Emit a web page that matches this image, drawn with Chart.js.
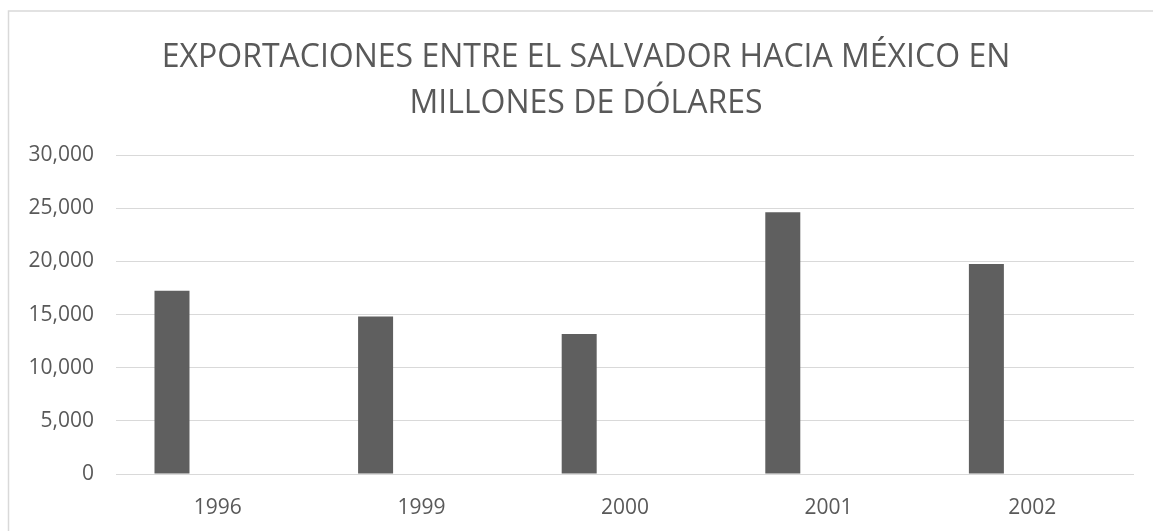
<!DOCTYPE html>
<html>
<head>
<meta charset="utf-8">
<script src="https://cdn.jsdelivr.net/npm/chart.js@4"></script>
<style>
  html, body { margin: 0; padding: 0; background: #ffffff; }
  #wrap { width: 1153px; height: 531px; position: relative; }
</style>
</head>
<body>
<div id="wrap"><canvas id="c" width="1153" height="531"></canvas></div>
<script>
const categories = ['1996', '1999', '2000', '2001', '2002'];
const exportaciones = [17250, 14810, 13180, 24620, 19760];
const serieVacia = [null, null, null, null, null];
const titleLines = ['EXPORTACIONES ENTRE EL SALVADOR HACIA MÉXICO EN', 'MILLONES DE DÓLARES'];

const textColor = '#595959';
const gridColor = '#d9d9d9';
const fontFamily = "'Open Sans', 'Noto Sans', sans-serif";

const framePlugin = {
  id: 'frame',
  beforeDraw(chart) {
    const ctx = chart.ctx;
    ctx.save();
    ctx.fillStyle = '#ffffff';
    ctx.fillRect(0, 0, chart.width, chart.height);
    ctx.strokeStyle = '#d9d9d9';
    ctx.lineWidth = 1.5;
    ctx.strokeRect(8.5, 11, 1300, 700);
    ctx.restore();
  },
  afterLayout(chart) {
    // let the y tick labels extend into the left padding without clipping
    if (chart.scales.y) chart.scales.y.left = 0;
  }
};

new Chart(document.getElementById('c'), {
  type: 'bar',
  data: {
    labels: categories,
    datasets: [
      { label: 'Exportaciones', data: exportaciones, backgroundColor: '#5f5f5f', borderWidth: 0,
        categoryPercentage: 0.9, barPercentage: 0.382 },
      { label: 'Serie 2', data: serieVacia, backgroundColor: '#a5a5a5', borderWidth: 0,
        categoryPercentage: 0.9, barPercentage: 0.382 }
    ]
  },
  options: {
    responsive: false,
    animation: false,
    devicePixelRatio: 1,
    layout: { padding: { left: 38, right: 19, top: 0, bottom: 0 } },
    plugins: {
      legend: { display: false },
      tooltip: { enabled: false },
      title: {
        display: true,
        text: titleLines,
        color: textColor,
        font: { family: fontFamily, size: 32, weight: 'normal', lineHeight: 1.44 },
        padding: { top: 35, bottom: 28 }
      }
    },
    scales: {
      x: {
        grid: { display: false, drawTicks: false },
        border: { display: false },
        ticks: { color: textColor, font: { family: fontFamily, size: 21 }, padding: 21, maxRotation: 0 },
        afterFit(scale) { scale.height = 57; }
      },
      y: {
        min: 0,
        max: 30000,
        grid: { color: gridColor, lineWidth: 1, drawTicks: false },
        border: { display: false },
        ticks: {
          stepSize: 5000,
          color: textColor,
          font: { family: fontFamily, size: 21 },
          padding: 22,
          callback: (v) => Number(v).toLocaleString('en-US')
        },
        afterFit(scale) { scale.width = 78; }
      }
    }
  },
  plugins: [framePlugin]
});
</script>
</body>
</html>
